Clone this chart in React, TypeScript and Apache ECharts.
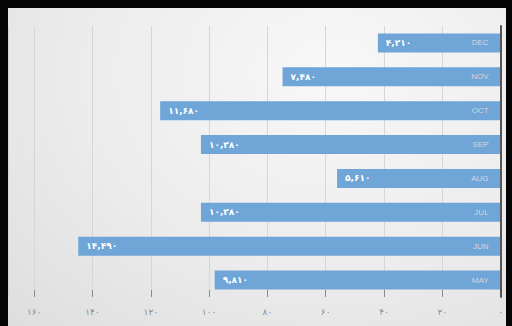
import React, { useEffect, useRef } from "react";
import * as echarts from "echarts";

const months = ["DEC", "NOV", "OCT", "SEP", "AUG", "JUL", "JUN", "MAY"];
const values = [42.1, 74.8, 116.8, 102.8, 56.1, 102.8, 144.9, 98.1];
const axisMax = 169;
const tickStep = 20;

const faDigits = "۰۱۲۳۴۵۶۷۸۹";
const toFa = (s: string) => s.replace(/[0-9]/g, (d) => faDigits[Number(d)]);
const fmtValue = (v: number) => {
  const n = Math.round(v * 100);
  return toFa(n.toLocaleString("en-US"));
};

export default function App() {
  const ref = useRef<HTMLDivElement>(null);
  useEffect(() => {
    if (!ref.current) return;
    const chart = echarts.init(ref.current, null, { renderer: "svg" });
    chart.setOption({
      animation: false,
      grid: { left: 0, right: 4, top: 18, bottom: 29, containLabel: false },
      xAxis: {
        type: "value",
        inverse: true,
        min: 0,
        max: axisMax,
        interval: tickStep,
        axisLine: { show: false },
        axisTick: { show: true, length: 7, inside: true, lineStyle: { color: "#8a8a8a", width: 1 } },
        axisLabel: {
          color: "#8c8c8c",
          fontSize: 9,
          fontFamily: "DejaVu Sans",
          margin: 10,
          showMaxLabel: false,
          formatter: (v: number) => (v > 160 ? "" : toFa(String(v))),
        },
        splitLine: { show: true, lineStyle: { color: "#d6d6d6", width: 1 } },
      },
      yAxis: {
        type: "category",
        data: months,
        inverse: true,
        position: "right",
        axisLine: { show: true, lineStyle: { color: "#555", width: 2 } },
        axisTick: { show: false },
        axisLabel: {
          inside: true,
          margin: 12,
          color: "#d3d8de",
          fontSize: 8,
          fontFamily: "Liberation Sans",
        },
        z: 10,
      },
      series: [
        {
          type: "bar",
          data: values,
          barWidth: 19,
          itemStyle: { color: "#6fa5d7" },
          label: {
            show: true,
            position: "insideLeft",
            distance: 8,
            color: "#ffffff",
            fontWeight: "bold",
            fontSize: 9,
            fontFamily: "DejaVu Sans",
            formatter: (p: any) => fmtValue(p.value),
          },
        },
      ],
    });
    return () => chart.dispose();
  }, []);
  return (
    <div style={{ position: "fixed", left: 0, top: 0, width: 512, height: 326, background: "#050505" }}>
      <div
        style={{
          position: "absolute",
          left: 8,
          top: 8,
          width: 498,
          height: 318,
          background: "radial-gradient(ellipse at 65% 20%, #f8f8f8 0%, #ececec 55%, #dedede 100%)",
        }}
      >
        <div ref={ref} style={{ width: 498, height: 318 }} />
      </div>
    </div>
  );
}
